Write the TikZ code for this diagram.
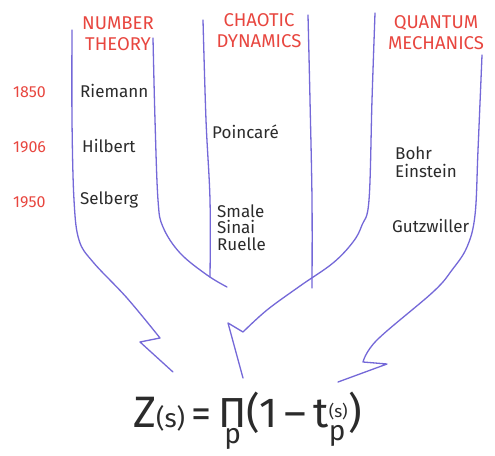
\documentclass[tikz,border=0pt]{standalone}
\usepackage{fontspec}
\setmainfont{Fira Sans}
\definecolor{ink}{HTML}{7468D8}
\definecolor{redink}{HTML}{E8463F}
\definecolor{blackink}{HTML}{2B2B2B}
\newcommand\fsz[2]{{\fontsize{#1}{#1}\selectfont #2}}
\tikzset{
  branch/.style={draw=ink, line width=1.3pt, line cap=round, line join=round},
  field/.style={text=redink, font=\fontsize{18.5}{20.5}\selectfont, align=center, inner sep=0pt, anchor=base},
  yearlbl/.style={text=redink, font=\fontsize{16}{18}\selectfont, inner sep=0pt, anchor=base west},
  person/.style={text=blackink, font=\fontsize{17}{18}\selectfont, inner sep=0pt, anchor=base west, align=left},
  formula/.style={text=blackink, inner sep=0pt, anchor=base west},
}
\begin{document}
\begin{tikzpicture}[x=1pt, y=-1pt]
\useasboundingbox (0,0) rectangle (495,455);
\fill[white] (0,0) rectangle (495,455);

% headers (anchor = baseline of the last line)
\node[field] (nt) at (118,50) {NUMBER\\THEORY};
\node[field] (cd) at (259,47) {CHAOTIC\\DYNAMICS};
\node[field] (qm) at (436,49) {QUANTUM\\MECHANICS};

% years
\node[yearlbl] (y1850) at (13,97) {1850};
\node[yearlbl] (y1906) at (13,152) {1906};
\node[yearlbl] (y1950) at (13,207) {1950};

% people
\node[person] (riemann) at (80,97) {Riemann};
\node[person] (hilbert) at (82,152) {Hilbert};
\node[person] (selberg) at (80,204) {Selberg};
\node[person] (poincare) at (212,138) {Poincaré};
\node[person, font=\fontsize{17}{16.5}\selectfont] (ssr) at (217,250) {Smale\\Sinai\\Ruelle};
\node[person, font=\fontsize{17}{18}\selectfont] (be) at (395,177) {Bohr\\Einstein};
\node[person] (gutz) at (392,232) {Gutzwiller};

% formula
\node[formula] (zeta) at (133,427) {\fsz{44}{Z}\fsz{26}{(s)}\fsz{40}{\,=\,}$\mathop{\hbox{\fsz{42}{Π}}}\limits_{\raisebox{-4pt}{\fsz{28}{p}}}$\fsz{42}{(1\,–\,t}$_{\raisebox{-2pt}{\fsz{28}{p}}}^{\raisebox{6pt}{\fsz{17}{(s)}}}$\fsz{42}{)}};

% branches
\draw[branch] plot[smooth, tension=0.6] coordinates {(72,30) (72,120) (74,200) (79,240) (93,262) (127,298) (160,338)} -- (140,342) -- (173,372);
\draw[branch] plot[smooth, tension=0.6] coordinates {(153,38) (155,120) (158,200) (163,227) (180,253) (207,275) (227,287)};
\draw[branch] plot[smooth, tension=0.6] coordinates {(203,20) (206,120) (210,200) (210,277)};
\draw[branch] plot[smooth, tension=0.6] coordinates {(308,15) (310,100) (312,200) (312,288)};
\draw[branch] plot[smooth, tension=0.6] coordinates {(375,13) (372,100) (369,200) (362,225) (353,242) (333,263) (300,286) (267,310) (243,332)} -- (228,323) -- (243,378);
\draw[branch] plot[smooth, tension=0.6] coordinates {(482,55) (478,150) (475,215) (467,247) (452,270) (433,292) (377,340) (363,362)} -- (387,364) -- (338,382);
\end{tikzpicture}
\end{document}
